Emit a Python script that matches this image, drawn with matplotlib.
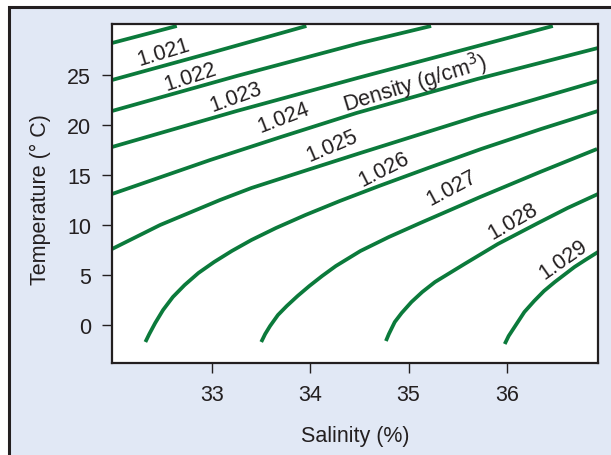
import matplotlib
matplotlib.use("Agg")
import matplotlib.pyplot as plt
from matplotlib.patches import Rectangle

plt.rcParams['font.family'] = ['Liberation Sans', 'DejaVu Sans']

# isopycnals: salinity (%) and temperature (deg C)
s_1020 = [31.98, 32.64]
t_1020 = [28.2, 29.9]
s_1021 = [31.98, 32.98, 33.96]
t_1021 = [24.5, 27.2, 29.9]
s_1022 = [31.98, 33.25, 34.51, 35.23]
t_1022 = [21.4, 24.9, 28.2, 29.9]
s_1023 = [31.98, 33.25, 34.48, 36.47]
t_1023 = [17.8, 21.4, 24.7, 29.9]
s_1024 = [31.98, 32.98, 33.70, 34.47, 35.70, 36.93]
t_1024 = [13.1, 16.5, 18.8, 21.2, 24.6, 27.7]
s_1025 = [31.98, 32.47, 33.08, 33.40, 34.00, 34.51, 35.71, 36.93]
t_1025 = [7.6, 10.0, 12.5, 13.7, 15.6, 17.2, 20.9, 24.4]
s_1026 = [32.32, 32.36, 32.42, 32.50, 32.60, 32.72, 32.86, 33.02, 33.20, 33.40, 33.65,
          33.95, 34.30, 34.70, 35.20, 35.74, 36.35, 36.93]
t_1026 = [-1.7, -0.9, 0.2, 1.5, 2.8, 4.0, 5.2, 6.3, 7.4, 8.5, 9.7,
          11.0, 12.4, 13.9, 15.7, 17.6, 19.6, 21.4]
s_1027 = [33.50, 33.54, 33.59, 33.67, 33.76, 33.87, 33.99, 34.12, 34.26, 34.51, 34.80,
          35.12, 35.73, 36.34, 36.92]
t_1027 = [-1.7, -0.9, -0.1, 1.0, 1.9, 2.9, 3.9, 4.9, 5.9, 7.4, 8.8,
          10.2, 12.8, 15.3, 17.6]
s_1028 = [34.77, 34.80, 34.86, 34.93, 35.03, 35.14, 35.27, 35.42, 35.57, 35.91, 36.32,
          36.62, 36.93]
t_1028 = [-1.6, -0.9, 0.3, 1.2, 2.3, 3.3, 4.3, 5.2, 6.1, 8.1, 10.2,
          11.7, 13.1]
s_1029 = [35.98, 36.02, 36.10, 36.18, 36.28, 36.38, 36.49, 36.69, 36.80, 36.93]
t_1029 = [-1.9, -1.1, 0.1, 1.3, 2.4, 3.4, 4.3, 5.8, 6.5, 7.3]

curves = [(s_1020, t_1020), (s_1021, t_1021), (s_1022, t_1022), (s_1023, t_1023),
          (s_1024, t_1024), (s_1025, t_1025), (s_1026, t_1026), (s_1027, t_1027),
          (s_1028, t_1028), (s_1029, t_1029)]

label_text = ['1.021', '1.022', '1.023', '1.024', '1.025', '1.026', '1.027', '1.028', '1.029',
              'Density (g/cm$^3$)']
label_s = [32.50, 32.78, 33.24, 33.73, 34.22, 34.75, 35.44, 36.06, 36.58, 35.07]
label_t = [27.3, 24.9, 22.8, 20.8, 18.0, 15.6, 13.8, 10.4, 6.6, 24.2]
label_rot = [17, 18, 20, 21, 23, 27, 28, 30, 35, 17]

x_ticks = [33, 34, 35, 36]
y_ticks = [0, 5, 10, 15, 20, 25]

green = '#0b7a3b'
dark = '#231f20'
bg = '#e1e8f5'

fig = plt.figure(figsize=(6.11, 4.56), dpi=100)
fig.patch.set_facecolor('white')
frame = Rectangle((8.5 / 611, -0.05), 1.1, 1.05 - 7.5 / 456, transform=fig.transFigure,
                  facecolor=bg, edgecolor=dark, linewidth=2.2, clip_on=False, zorder=-10)
fig.patches.append(frame)

ax = fig.add_axes([112 / 611, 1 - 364 / 456, 486 / 611, 339 / 456])
ax.set_facecolor('white')

for s, t in curves:
    ax.plot(s, t, color=green, linewidth=2.7, solid_capstyle='butt', solid_joinstyle='round')

for txt, s, t, r in zip(label_text, label_s, label_t, label_rot):
    ax.text(s, t, txt, rotation=r, rotation_mode='anchor', ha='center', va='center',
            fontsize=15.5, color=dark)

ax.set_xlim(31.98, 36.93)
ax.set_ylim(-3.8, 30.1)
ax.set_xticks(x_ticks)
ax.set_yticks(y_ticks)
ax.tick_params(direction='out', length=7.2, width=1, color=dark, labelcolor=dark,
               labelsize=15.5, pad=8)
for sp in ax.spines.values():
    sp.set_linewidth(1.6)
    sp.set_color(dark)

fig.text(355 / 611, 1 - 437 / 456, 'Salinity (%)', ha='center', va='center', fontsize=15.5, color=dark)
fig.text(40 / 611, 1 - 200 / 456, 'Temperature (° C)', ha='center', va='center', rotation=90,
         fontsize=15.5, color=dark)

fig.savefig('out.png', dpi=100, facecolor=fig.get_facecolor())
